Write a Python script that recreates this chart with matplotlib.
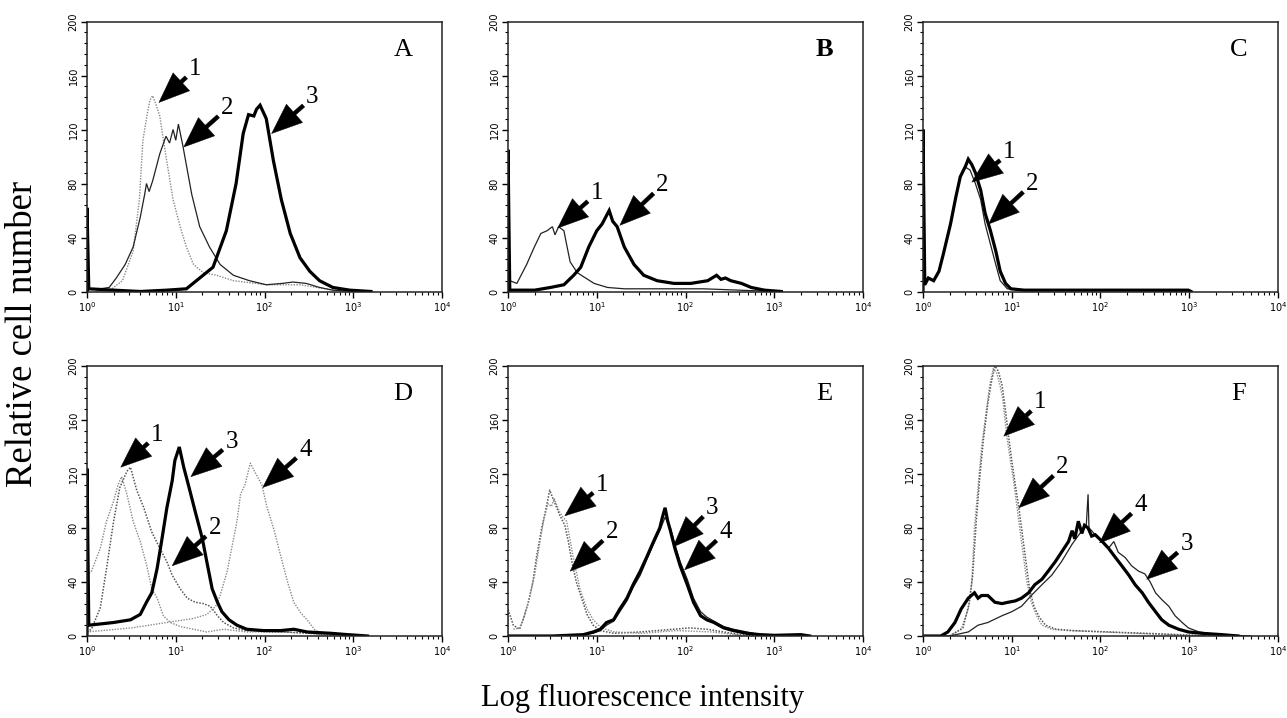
import numpy as np
import matplotlib
matplotlib.use("Agg")
import matplotlib.pyplot as plt
from matplotlib.ticker import FixedLocator, LogLocator, NullFormatter

# ---------------- data (x in decades of log fluorescence, y = cell count) ----------------
# Panel A
A1_x = [0.10, 0.26, 0.40, 0.52, 0.59, 0.63, 0.68, 0.71, 0.74, 0.78, 0.82, 0.89, 0.97, 1.05, 1.12, 1.20, 1.31, 1.46, 1.65, 2.02, 2.40, 2.59, 2.77, 3.00]
A1_y = [0, 1, 8, 30, 68, 112, 132, 142, 145, 138, 130, 100, 68, 48, 33, 20, 14, 12, 8, 5, 5, 3, 1, 0]
A2_x = [0.02, 0.15, 0.25, 0.33, 0.43, 0.52, 0.60, 0.65, 0.67, 0.70, 0.74, 0.82, 0.89, 0.93, 0.97, 1.00, 1.03, 1.08, 1.18, 1.27, 1.38, 1.50, 1.65, 1.83, 2.02, 2.20, 2.32, 2.47, 2.62, 2.77, 3.00]
A2_y = [2, 2, 3, 10, 20, 33, 55, 72, 80, 74, 82, 102, 115, 110, 120, 112, 124, 108, 72, 48, 33, 20, 12, 8, 5, 6, 7, 6, 3, 1, 0]
A3_x = [0.0, 0.0, 0.02, 0.30, 0.60, 0.90, 1.12, 1.27, 1.42, 1.57, 1.68, 1.76, 1.82, 1.88, 1.91, 1.95, 2.02, 2.10, 2.19, 2.29, 2.40, 2.51, 2.62, 2.77, 2.96, 3.20]
A3_y = [0, 62, 2, 1, 0, 1, 2, 10, 18, 45, 80, 117, 131, 130, 135, 138, 128, 97, 68, 43, 25, 15, 8, 3, 1, 0]

# Panel B
B1_x = [0.02, 0.10, 0.21, 0.29, 0.37, 0.44, 0.50, 0.53, 0.57, 0.63, 0.66, 0.70, 0.78, 0.85, 0.97, 1.12, 1.31, 1.50, 1.80, 2.20, 2.60, 3.00]
B1_y = [8, 6, 20, 32, 43, 45, 48, 42, 48, 45, 35, 22, 14, 11, 6, 3, 2, 2, 2, 2, 1, 0]
B2_x = [0.0, 0.0, 0.02, 0.30, 0.48, 0.63, 0.74, 0.82, 0.91, 1.00, 1.06, 1.10, 1.14, 1.18, 1.23, 1.31, 1.42, 1.53, 1.68, 1.87, 2.06, 2.25, 2.35, 2.40, 2.45, 2.51, 2.63, 2.74, 2.89, 3.08]
B2_y = [0, 105, 1, 1, 3, 5, 12, 18, 33, 45, 50, 55, 60, 52, 48, 33, 20, 12, 8, 6, 6, 8, 12, 9, 10, 8, 6, 3, 1, 0]

# Panel C
C1_x = [0.02, 0.06, 0.12, 0.18, 0.23, 0.31, 0.37, 0.42, 0.48, 0.53, 0.59, 0.65, 0.70, 0.76, 0.82, 0.87, 0.95, 1.10, 2.00, 3.00]
C1_y = [5, 10, 8, 15, 28, 50, 70, 85, 92, 90, 80, 68, 50, 35, 20, 8, 2, 1, 1, 0]
C2_x = [0.0, 0.0, 0.02, 0.06, 0.12, 0.18, 0.23, 0.31, 0.37, 0.42, 0.48, 0.51, 0.55, 0.59, 0.65, 0.70, 0.76, 0.82, 0.87, 0.93, 0.99, 1.14, 1.60, 2.20, 2.60, 2.99, 3.02]
C2_y = [0, 120, 5, 10, 8, 15, 28, 50, 70, 85, 93, 98, 94, 88, 75, 58, 45, 30, 15, 6, 2, 1, 1, 1, 1, 1, 0]

# Panel D
D1_x = [0.0, 0.05, 0.15, 0.22, 0.30, 0.35, 0.39, 0.45, 0.52, 0.60, 0.67, 0.73, 0.79, 0.86, 0.94, 1.05, 1.20, 1.35, 1.54, 1.80, 2.20, 2.50, 2.70]
D1_y = [45, 48, 65, 85, 100, 112, 118, 105, 85, 70, 53, 35, 28, 15, 10, 7, 5, 3, 5, 3, 3, 2, 0]
D2_x = [0.0, 0.05, 0.15, 0.22, 0.30, 0.37, 0.45, 0.49, 0.56, 0.64, 0.73, 0.82, 0.90, 0.96, 1.05, 1.13, 1.22, 1.31, 1.39, 1.47, 1.54, 1.65, 1.80, 2.18, 2.56, 2.80]
D2_y = [3, 5, 21, 50, 85, 110, 122, 125, 108, 95, 77, 65, 55, 45, 35, 28, 25, 24, 22, 15, 10, 6, 4, 3, 2, 0]
D3_x = [0.0, 0.0, 0.02, 0.30, 0.49, 0.60, 0.67, 0.73, 0.79, 0.84, 0.90, 0.96, 0.99, 1.04, 1.09, 1.15, 1.22, 1.30, 1.35, 1.41, 1.47, 1.52, 1.60, 1.69, 1.80, 1.99, 2.18, 2.33, 2.48, 2.75, 2.94, 3.16]
D3_y = [0, 124, 8, 10, 12, 16, 25, 32, 50, 70, 95, 115, 130, 140, 125, 110, 92, 72, 55, 35, 25, 18, 12, 8, 5, 4, 4, 5, 3, 2, 1, 0]
D4_x = [0.0, 0.50, 0.90, 1.20, 1.35, 1.45, 1.50, 1.58, 1.63, 1.69, 1.73, 1.78, 1.84, 1.92, 1.97, 2.03, 2.11, 2.18, 2.26, 2.33, 2.41, 2.48, 2.56, 2.63, 2.75, 2.90]
D4_y = [3, 6, 10, 13, 16, 22, 30, 48, 65, 85, 105, 112, 128, 118, 112, 95, 78, 60, 40, 25, 17, 12, 5, 2, 1, 0]

# Panel E
E1_x = [0.0, 0.0, 0.06, 0.13, 0.17, 0.23, 0.28, 0.32, 0.38, 0.43, 0.47, 0.53, 0.58, 0.64, 0.68, 0.72, 0.77, 0.83, 0.89, 0.96, 1.04, 1.19, 1.49, 1.86, 2.05, 2.24, 2.43, 2.62, 2.80]
E1_y = [0, 20, 8, 5, 12, 25, 40, 58, 80, 95, 108, 98, 90, 82, 70, 55, 40, 28, 16, 8, 4, 2, 3, 5, 6, 5, 3, 1, 0]
E2_x = [0.06, 0.13, 0.18, 0.24, 0.30, 0.34, 0.40, 0.45, 0.49, 0.52, 0.58, 0.62, 0.66, 0.73, 0.81, 0.89, 0.96, 1.05, 1.20, 1.50, 1.90, 2.30, 2.70]
E2_y = [5, 6, 14, 28, 45, 62, 85, 98, 96, 102, 92, 88, 85, 60, 35, 20, 12, 6, 3, 2, 4, 3, 0]
E3_x = [0.0, 0.50, 0.85, 0.96, 1.04, 1.11, 1.19, 1.26, 1.34, 1.41, 1.49, 1.56, 1.64, 1.71, 1.74, 1.77, 1.80, 1.83, 1.88, 1.94, 2.02, 2.09, 2.17, 2.24, 2.32, 2.43, 2.54, 2.69, 2.84, 3.00, 3.30, 3.40]
E3_y = [0, 0, 1, 3, 5, 10, 12, 20, 28, 38, 48, 58, 70, 80, 88, 95, 85, 78, 65, 52, 38, 25, 15, 12, 10, 6, 4, 2, 1, 0.5, 1, 0]
E4_x = [0.50, 0.85, 0.96, 1.04, 1.11, 1.19, 1.26, 1.34, 1.41, 1.49, 1.56, 1.64, 1.71, 1.77, 1.83, 1.88, 1.94, 2.02, 2.09, 2.17, 2.24, 2.32, 2.43, 2.54, 2.69, 2.84, 3.00]
E4_y = [0, 1, 2, 4, 8, 11, 18, 26, 36, 45, 56, 68, 78, 88, 80, 68, 55, 42, 28, 18, 14, 11, 7, 5, 3, 1, 0]

# Panel F
F1_x = [0.0, 0.30, 0.43, 0.51, 0.55, 0.58, 0.62, 0.66, 0.72, 0.75, 0.79, 0.83, 0.87, 0.90, 0.94, 0.98, 1.02, 1.05, 1.09, 1.13, 1.17, 1.22, 1.28, 1.34, 1.45, 1.64, 2.02, 2.39, 2.77, 3.14, 3.30]
F1_y = [0, 0, 5, 20, 40, 80, 110, 140, 170, 185, 198, 195, 185, 175, 150, 132, 115, 100, 80, 60, 40, 25, 15, 8, 5, 4, 3, 2, 1, 0.5, 0]
F2_x = [0.30, 0.45, 0.52, 0.56, 0.60, 0.64, 0.68, 0.73, 0.77, 0.81, 0.85, 0.89, 0.92, 0.96, 1.00, 1.04, 1.08, 1.12, 1.16, 1.20, 1.25, 1.31, 1.38, 1.50, 1.70, 2.10, 2.50, 2.90, 3.20]
F2_y = [0, 6, 24, 45, 85, 118, 145, 172, 188, 200, 196, 186, 172, 150, 130, 112, 95, 75, 55, 35, 22, 14, 8, 5, 4, 3, 2, 1, 0]
F3_x = [0.0, 0.30, 0.51, 0.62, 0.73, 0.89, 1.00, 1.11, 1.22, 1.34, 1.45, 1.56, 1.68, 1.79, 1.84, 1.86, 1.87, 1.90, 1.98, 2.09, 2.15, 2.20, 2.28, 2.35, 2.43, 2.50, 2.56, 2.62, 2.69, 2.77, 2.84, 2.92, 2.99, 3.11, 3.33, 3.52, 3.70]
F3_y = [0, 0, 3, 8, 10, 15, 18, 22, 30, 38, 45, 55, 68, 78, 82, 105, 80, 78, 72, 65, 70, 62, 58, 52, 48, 46, 40, 32, 27, 22, 15, 10, 6, 3, 1, 0.5, 0]
F4_x = [0.0, 0.20, 0.28, 0.36, 0.43, 0.51, 0.58, 0.62, 0.66, 0.73, 0.81, 0.89, 0.96, 1.04, 1.11, 1.19, 1.26, 1.34, 1.41, 1.49, 1.56, 1.64, 1.68, 1.71, 1.75, 1.79, 1.82, 1.86, 1.90, 1.94, 2.02, 2.09, 2.17, 2.24, 2.32, 2.39, 2.47, 2.54, 2.62, 2.69, 2.77, 2.88, 2.99, 3.14, 3.37, 3.55]
F4_y = [0, 0, 3, 10, 20, 28, 32, 28, 30, 30, 25, 24, 25, 26, 28, 32, 38, 42, 48, 55, 62, 70, 78, 72, 85, 76, 82, 80, 74, 75, 70, 65, 58, 52, 45, 38, 32, 25, 18, 12, 8, 5, 3, 2, 1, 0]

panel_names = ["A", "B", "C", "D", "E", "F"]
panel_series = {
    "A": [(A1_x, A1_y, "dot"), (A2_x, A2_y, "thin"), (A3_x, A3_y, "thick")],
    "B": [(B1_x, B1_y, "thin"), (B2_x, B2_y, "thick")],
    "C": [(C1_x, C1_y, "thin"), (C2_x, C2_y, "thick")],
    "D": [(D1_x, D1_y, "dot"), (D2_x, D2_y, "dotdark"), (D4_x, D4_y, "dot"), (D3_x, D3_y, "thick")],
    "E": [(E1_x, E1_y, "dotdark"), (E2_x, E2_y, "dot"), (E4_x, E4_y, "thin"), (E3_x, E3_y, "thick")],
    "F": [(F1_x, F1_y, "dot"), (F2_x, F2_y, "dotdark"), (F3_x, F3_y, "thin"), (F4_x, F4_y, "thick")],
}
# arrow annotations: label, (label log-x, label y), (tip log-x, tip y)
panel_arrows = {
    "A": [("1", (1.22, 165), (0.81, 140)), ("2", (1.58, 136), (1.09, 107)), ("3", (2.54, 144), (2.08, 117))],
    "B": [("1", (1.00, 73), (0.56, 47)), ("2", (1.74, 79), (1.26, 49))],
    "C": [("1", (0.97, 103), (0.55, 81)), ("2", (1.23, 80), (0.74, 50))],
    "D": [("1", (0.79, 149), (0.38, 125)), ("3", (1.63, 144), (1.17, 118)), ("2", (1.44, 80), (0.96, 52)), ("4", (2.46, 138), (1.98, 110))],
    "E": [("1", (1.06, 112), (0.64, 89)), ("2", (1.17, 77), (0.70, 48)), ("3", (2.30, 95), (1.86, 66)), ("4", (2.45, 77), (1.99, 49))],
    "F": [("1", (1.32, 173), (0.91, 148)), ("2", (1.57, 125), (1.08, 95)), ("4", (2.45, 97), (1.99, 69)), ("3", (2.97, 68), (2.52, 42))],
}
y_ticks = [0, 40, 80, 120, 160, 200]
x_decades = [0, 1, 2, 3, 4]

styles = {
    "dot": dict(color="#8a8a8a", lw=1.0, ls=(0, (1, 1))),
    "dotdark": dict(color="#555555", lw=1.1, ls=(0, (1, 1))),
    "thin": dict(color="#222222", lw=0.9, ls="-"),
    "thick": dict(color="black", lw=2.3, ls="-"),
}

W, H = 1287, 718
fig = plt.figure(figsize=(W / 100, H / 100), dpi=100)
fig.patch.set_facecolor("white")

lefts = [87, 508, 923]
tops = [21.5, 366]
aw, ah = 355, 270

for i, name in enumerate(panel_names):
    r, c = divmod(i, 3)
    l = lefts[c]
    t = tops[r]
    ax = fig.add_axes([l / W, 1 - (t + ah) / H, aw / W, ah / H])
    for xs, ys, st in panel_series[name]:
        ax.plot(10 ** np.asarray(xs), ys, **styles[st], solid_joinstyle="miter")
    ax.set_xscale("log")
    ax.set_xlim(1, 1e4)
    ax.set_ylim(0, 200)
    ax.xaxis.set_major_locator(FixedLocator([10 ** d for d in x_decades]))
    ax.xaxis.set_minor_locator(LogLocator(base=10, subs=np.arange(2, 10)))
    ax.xaxis.set_minor_formatter(NullFormatter())
    ax.set_xticklabels([r"$10^{%d}$" % d for d in x_decades])
    ax.yaxis.set_major_locator(FixedLocator(y_ticks))
    ax.yaxis.set_minor_locator(FixedLocator(np.arange(0, 201, 8)))
    ax.set_yticklabels([str(v) for v in y_ticks], rotation=90, va="center")
    ax.tick_params(axis="both", which="major", direction="out", length=4, width=1.0, labelsize=7, pad=2)
    ax.tick_params(axis="both", which="minor", direction="out", length=2.5, width=0.8)
    for sp in ax.spines.values():
        sp.set_linewidth(1.1)
        sp.set_color("#222222")
    ax.text(0.89, 0.895, name, transform=ax.transAxes, ha="center", va="center",
            fontsize=19, family="Liberation Serif", fontweight="bold" if name == "B" else "normal")
    for lab, (lx, ly), (tx, ty) in panel_arrows[name]:
        ax.annotate(lab, xy=(10 ** tx, ty), xytext=(10 ** lx, ly), ha="center", va="center",
                    fontsize=18, family="Liberation Serif",
                    arrowprops=dict(arrowstyle="simple,head_length=1.0,head_width=0.8,tail_width=0.13",
                                    facecolor="black", edgecolor="black", lw=0.3,
                                    mutation_scale=22, shrinkA=0, shrinkB=0,
                                    relpos=(0.1, 0.28)))

fig.text(23 / W, 1 - 334 / H, "Relative cell number", rotation=90, ha="center", va="center",
         fontsize=26.5, family="Liberation Serif")
fig.text(643 / W, 1 - 698 / H, "Log fluorescence intensity", ha="center", va="center",
         fontsize=22, family="Liberation Serif")

fig.savefig("out.png", dpi=100, facecolor="white")
